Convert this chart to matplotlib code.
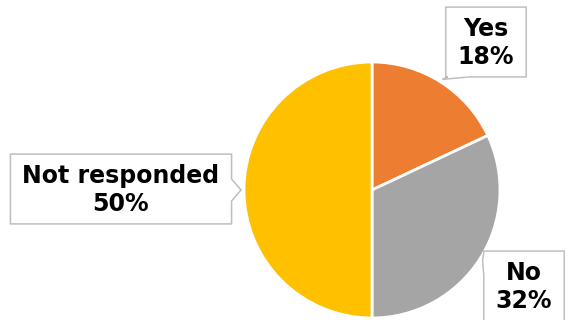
import numpy as np
import matplotlib
matplotlib.use('Agg')
import matplotlib.pyplot as plt
from matplotlib.patches import Polygon

# ── DATA ─────────────────────────────────────────────────────────────────────
labels = ['Yes', 'No', 'Not responded']
shares = [18, 32, 50]
colors = ['#ED7D31', '#A5A5A5', '#FFC000']
# callout text centres (pixel coords, origin bottom-left)
label_pos = [(486, 277), (524, 33), (121, 130)]

# ── HELPERS ──────────────────────────────────────────────────────────────────
def callout_outline(x0, y0, x1, y1, tip, half=11):
    """Rectangle outline with a triangular pointer towards tip."""
    tx, ty = tip
    if ty < y0 and x0 - 30 < tx:          # pointer on bottom edge
        bx = np.clip(tx, x0 + half + 2, x1 - half - 2)
        return [(x0, y0), (bx - half, y0), tip, (bx + half, y0),
                (x1, y0), (x1, y1), (x0, y1)]
    if tx > x1:                            # right edge
        by = np.clip(ty, y0 + half + 2, y1 - half - 2)
        return [(x0, y0), (x1, y0), (x1, by - half), tip, (x1, by + half),
                (x1, y1), (x0, y1)]
    if tx < x0:                            # left edge
        by = np.clip(ty, y0 + half + 2, y1 - half - 2)
        return [(x0, y0), (x1, y0), (x1, y1), (x0, y1),
                (x0, by + half), tip, (x0, by - half)]
    bx = np.clip(tx, x0 + half + 2, x1 - half - 2)   # top edge
    return [(x0, y0), (x1, y0), (x1, y1), (bx + half, y1), tip,
            (bx - half, y1), (x0, y1)]

# ── PLOT ─────────────────────────────────────────────────────────────────────
W, H = 570, 320
fig = plt.figure(figsize=(W / 100, H / 100), dpi=100)
ax = fig.add_axes([0, 0, 1, 1])

cx, cy, r = 372, 130, 128
wedges, _ = ax.pie(shares, colors=colors, startangle=90, counterclock=False,
                   center=(cx, cy), radius=r, frame=True,
                   wedgeprops=dict(edgecolor='white', linewidth=2))
ax.set_xlim(0, W)
ax.set_ylim(0, H)
ax.set_aspect('equal')
ax.axis('off')

texts = []
for lab, val, pos in zip(labels, shares, label_pos):
    t = ax.text(pos[0], pos[1], f"{lab}\n{val}%", ha='center', va='center',
                fontsize=17, fontweight='bold', color='black',
                linespacing=1.2, zorder=5)
    texts.append(t)

fig.canvas.draw()
inv = ax.transData.inverted()
padx, pady = 12, 10
for w, t in zip(wedges, texts):
    bb = t.get_window_extent().transformed(inv)
    mid = np.deg2rad((w.theta1 + w.theta2) / 2)
    tip = (cx + (r + 3) * np.cos(mid), cy + (r + 3) * np.sin(mid))
    pts = callout_outline(bb.x0 - padx, bb.y0 - pady + 2,
                          bb.x1 + padx, bb.y1 + pady, tip)
    ax.add_patch(Polygon(pts, closed=True, fc='white', ec='#BFBFBF',
                         lw=1.1, zorder=4, clip_on=False))

fig.savefig('out.png', dpi=100)
